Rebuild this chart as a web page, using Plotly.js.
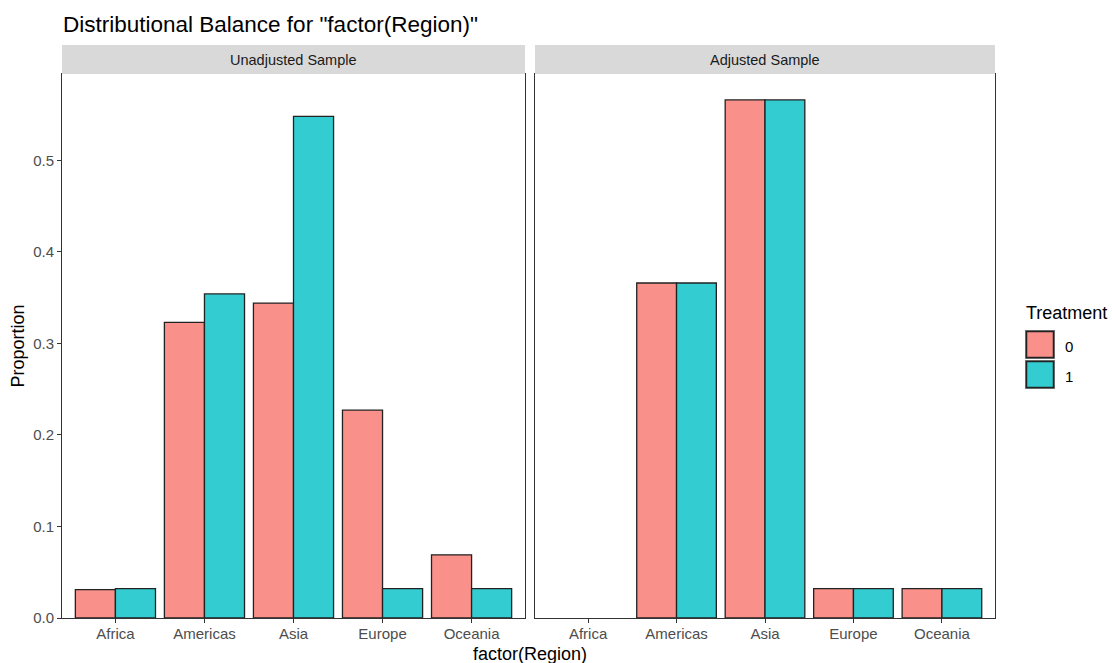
<!DOCTYPE html>
<html>
<head>
<meta charset="utf-8">
<script src="https://cdn.plot.ly/plotly-3.0.1.min.js"></script>
<style>html,body{margin:0;padding:0;background:#fff;}#chart{width:1112px;height:663px;}</style>
</head>
<body>
<div id="chart"></div>
<script>
const regions = ["Africa", "Americas", "Asia", "Europe", "Oceania"];
const unadjTreat0 = [0.031, 0.323, 0.344, 0.227, 0.069];
const unadjTreat1 = [0.032, 0.354, 0.548, 0.032, 0.032];
const adjTreat0 = [0, 0.366, 0.566, 0.032, 0.032];
const adjTreat1 = [0, 0.366, 0.566, 0.032, 0.032];
const panelTitles = ["Unadjusted Sample", "Adjusted Sample"];
const treatmentLevels = ["0", "1"];
const yTicks = [0, 0.1, 0.2, 0.3, 0.4, 0.5];

const W = 1112, H = 663;
const FONT = "Liberation Sans, Arial, sans-serif";
const col0 = "#F9918A", col1 = "#33CCD0";
const lineCol = "#222222";

function bar(y, color, xa, ya, name) {
  return {
    type: "bar", x: regions, y: y, xaxis: xa, yaxis: ya, name: name,
    marker: {color: color, line: {color: lineCol, width: y.map(v => v > 0 ? 1.3 : 0)}},
    showlegend: false, hoverinfo: "x+y"
  };
}
const data = [
  bar(unadjTreat0, col0, "x", "y", treatmentLevels[0]),
  bar(unadjTreat1, col1, "x", "y", treatmentLevels[1]),
  bar(adjTreat0, col0, "x2", "y2", treatmentLevels[0]),
  bar(adjTreat1, col1, "x2", "y2", treatmentLevels[1])
];

const mL = 62, mR = 117, mT = 74, mB = 45;
const pw = W - mL - mR, ph = H - mT - mB;
const d1 = [0, (525 - mL) / pw];
const d2 = [(535 - mL) / pw, 1];
const yr = [0, 0.5943];

const xCommon = {
  type: "category", range: [-0.6, 4.6], showgrid: false, zeroline: false,
  showline: true, mirror: true, linecolor: "#333333", linewidth: 1,
  ticks: "outside", ticklen: 4, tickcolor: "#333333", tickwidth: 1, ticklabelstandoff: -2,
  tickfont: {family: FONT, size: 15, color: "#4d4d4d"}, fixedrange: true
};
const yCommon = {
  range: yr, showgrid: false, zeroline: false, showline: true, mirror: true,
  linecolor: "#333333", linewidth: 1, tickvals: yTicks, tickformat: ".1f", fixedrange: true
};

const stripH = 29 / ph;
const shapes = [];
const annotations = [];
[d1, d2].forEach((d, i) => {
  shapes.push({type: "rect", xref: "paper", yref: "paper", x0: d[0], x1: d[1], y0: 1, y1: 1 + stripH,
    fillcolor: "#d9d9d9", line: {width: 0}});
  annotations.push({xref: "paper", yref: "paper", x: (d[0] + d[1]) / 2, y: 1 + stripH / 2,
    text: panelTitles[i], showarrow: false, xanchor: "center", yanchor: "middle",
    font: {family: FONT, size: 14.5, color: "#1a1a1a"}});
});

// x axis title across both panels
annotations.push({xref: "paper", yref: "paper", x: (530 - mL) / pw, y: -(654 - (H - mB)) / ph,
  text: "factor(Region)", showarrow: false, xanchor: "center", yanchor: "middle",
  font: {family: FONT, size: 18, color: "#000"}});

// custom legend (ggplot-style)
function px2x(px) { return (px - mL) / pw; }
function py2y(py) { return (H - mB - py) / ph; }
annotations.push({xref: "paper", yref: "paper", x: px2x(1024), y: py2y(313), text: "Treatment",
  showarrow: false, xanchor: "left", yanchor: "middle", font: {family: FONT, size: 18, color: "#000"}});
const keyCols = [col0, col1];
const keyTops = [330, 360];
treatmentLevels.forEach((lv, i) => {
  const t = keyTops[i];
  shapes.push({type: "rect", xref: "paper", yref: "paper", x0: px2x(1025), x1: px2x(1055),
    y0: py2y(t + 29), y1: py2y(t), fillcolor: "#7f7f7f", line: {width: 0}});
  shapes.push({type: "rect", xref: "paper", yref: "paper", x0: px2x(1026.5), x1: px2x(1053.5),
    y0: py2y(t + 27.5), y1: py2y(t + 1.5), fillcolor: keyCols[i], line: {color: lineCol, width: 1.5}});
  annotations.push({xref: "paper", yref: "paper", x: px2x(1063), y: py2y(t + 16), text: lv,
    showarrow: false, xanchor: "left", yanchor: "middle", font: {family: FONT, size: 15, color: "#000"}});
});

const layout = {
  width: W, height: H,
  margin: {l: mL, r: mR, t: mT, b: mB},
  paper_bgcolor: "#fff", plot_bgcolor: "#fff",
  barmode: "group", bargap: 0.1, bargroupgap: 0,
  title: {text: 'Distributional Balance for "factor(Region)"', x: 63 / W, xanchor: "left",
    xref: "container", yref: "container", y: 1 - 24 / H, yanchor: "middle",
    font: {family: FONT, size: 22.5, color: "#000"}},
  xaxis: Object.assign({}, xCommon, {domain: d1, anchor: "y"}),
  xaxis2: Object.assign({}, xCommon, {domain: d2, anchor: "y2"}),
  yaxis: Object.assign({}, yCommon, {anchor: "x", ticks: "outside", ticklen: 4, tickcolor: "#333333",
    tickfont: {family: FONT, size: 15, color: "#4d4d4d"},
    title: {text: "Proportion", standoff: 3, font: {family: FONT, size: 18, color: "#000"}}}),
  yaxis2: Object.assign({}, yCommon, {anchor: "x2", matches: "y", showticklabels: false, ticks: ""}),
  shapes: shapes, annotations: annotations, showlegend: false
};

Plotly.newPlot("chart", data, layout, {displayModeBar: false, staticPlot: true});
</script>
</body>
</html>
